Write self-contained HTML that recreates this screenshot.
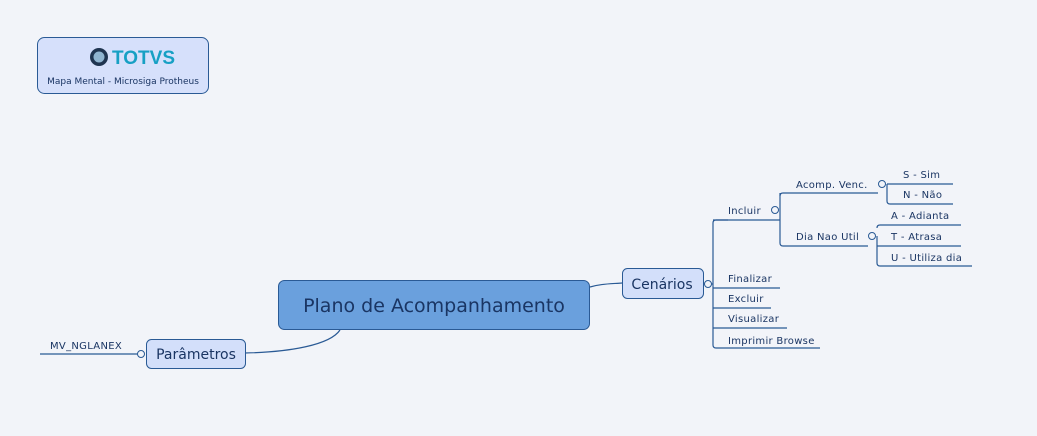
<!DOCTYPE html>
<html><head><meta charset="utf-8"><style>
html,body{margin:0;padding:0;background:#f2f4f9;}
svg{display:block;font-family:"DejaVu Sans","Liberation Sans",sans-serif;}
.t{font-size:10px;fill:#1a3563;letter-spacing:0.3px;}
</style></head><body>
<svg width="1037" height="436" viewBox="0 0 1037 436">
<rect x="0" y="0" width="1037" height="436" fill="#f2f4f9"/>
<rect x="37.5" y="37.5" width="171" height="56" rx="7" fill="#d6e0fb" stroke="#2a5a95"/>
<circle cx="99" cy="57" r="9" fill="#1f3450"/>
<circle cx="99" cy="57" r="5.5" fill="#8fb4d0"/>
<text x="112" y="64" font-family="Liberation Sans,sans-serif" font-weight="bold" font-size="19" fill="#17a0c4">TOTVS</text>
<text x="123" y="84" font-size="9" fill="#1a3563" text-anchor="middle">Mapa Mental - Microsiga Protheus</text>

<g fill="none" stroke="#2a5a95" stroke-width="1.2">
<path d="M590 287 C600 284 608 284 622 283"/>
<path d="M340 330 C330 345 290 352 245 353"/>
<path d="M40 354 H141"/>
<path d="M703 284 H713"/>
<path d="M728 220 H716 Q713 220 713 223 V345 Q713 348 716 348 H820"/>
<path d="M713 220 H780"/>
<path d="M713 288 H780"/>
<path d="M713 308 H771"/>
<path d="M713 328 H787"/>
<path d="M780 193 V243 Q780 246 783 246 H868"/>
<path d="M780 196 Q780 193 783 193 H878"/>
<path d="M887 184 H953"/>
<path d="M887 184 V201 Q887 204 890 204 H953"/>
<path d="M877 236 V263 Q877 266 880 266 H972"/>
<path d="M877 228 Q877 225 880 225 H961"/>
<path d="M877 246 H961"/>
</g>
<g fill="#f2f4f9" stroke="#2a5a95" stroke-width="1">
<circle cx="141" cy="354" r="3.5"/>
<circle cx="708" cy="284" r="3.5"/>
<circle cx="775" cy="210" r="3.5"/>
<circle cx="882" cy="184" r="3.5"/>
<circle cx="872" cy="236" r="3.5"/>
</g>
<rect x="278.5" y="280.5" width="311" height="49" rx="6" fill="#6aa0dd" stroke="#2a5a95"/>
<text x="434" y="312" text-anchor="middle" font-size="19" fill="#1a3563">Plano de Acompanhamento</text>
<rect x="622.5" y="268.5" width="81" height="30" rx="5" fill="#d3dffa" stroke="#2a5a95"/>
<text x="662" y="289" text-anchor="middle" font-size="14" fill="#1a3563">Cenários</text>
<rect x="146.5" y="339.5" width="99" height="29" rx="5" fill="#d3dffa" stroke="#2a5a95"/>
<text x="196" y="359" text-anchor="middle" font-size="14" fill="#1a3563">Parâmetros</text>

<text class="t" x="50" y="349">MV_NGLANEX</text>
<text class="t" x="728" y="214">Incluir</text>
<text class="t" x="728" y="282">Finalizar</text>
<text class="t" x="728" y="302">Excluir</text>
<text class="t" x="728" y="322">Visualizar</text>
<text class="t" x="728" y="344">Imprimir Browse</text>
<text class="t" x="796" y="188">Acomp. Venc.</text>
<text class="t" x="796" y="240">Dia Nao Util</text>
<text class="t" x="903" y="178">S - Sim</text>
<text class="t" x="903" y="198">N - Não</text>
<text class="t" x="891" y="219">A - Adianta</text>
<text class="t" x="891" y="240">T - Atrasa</text>
<text class="t" x="891" y="261">U - Utiliza dia</text>
</svg>
</body></html>
